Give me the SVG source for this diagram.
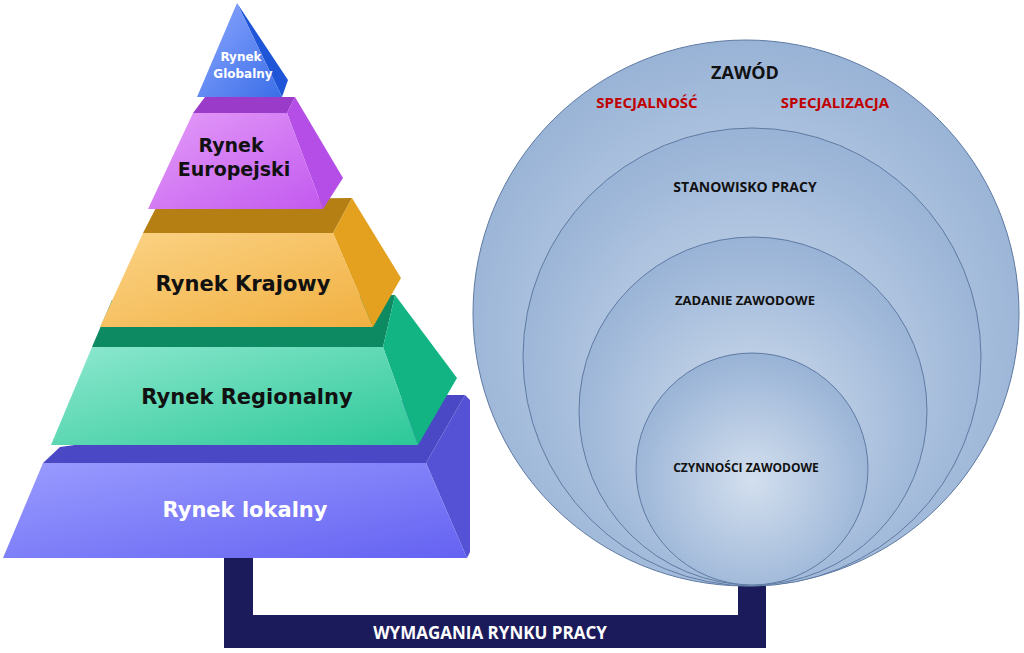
<svg xmlns="http://www.w3.org/2000/svg" width="1024" height="653" viewBox="0 0 1024 653">
<style>
.pt{font-family:"DejaVu Sans","Verdana",sans-serif;font-weight:bold;text-anchor:middle}
.ct{font-family:"Open Sans","Liberation Sans",sans-serif;font-weight:bold;text-anchor:middle;fill:#111}
.circ{fill:url(#cg);stroke:#5f7aa3;stroke-width:1}
</style>
<defs>
<radialGradient id="cg" cx="0.5" cy="0.55" r="0.6"><stop offset="0" stop-color="#d3dfee"/><stop offset="1" stop-color="#93afd4"/></radialGradient>
<linearGradient id="gb" x1="0" y1="0" x2="1" y2="1"><stop offset="0" stop-color="#8fa8ff"/><stop offset="1" stop-color="#3a6ee8"/></linearGradient>
<linearGradient id="gp" x1="0" y1="0" x2="1" y2="1"><stop offset="0" stop-color="#e49cf8"/><stop offset="1" stop-color="#c259ef"/></linearGradient>
<linearGradient id="go" x1="0" y1="0" x2="1" y2="1"><stop offset="0" stop-color="#fbd386"/><stop offset="1" stop-color="#f1b041"/></linearGradient>
<linearGradient id="gg" x1="0" y1="0" x2="1" y2="1"><stop offset="0" stop-color="#8ee8cf"/><stop offset="1" stop-color="#2cc897"/></linearGradient>
<linearGradient id="gl" x1="0" y1="0" x2="1" y2="1"><stop offset="0" stop-color="#9a9cff"/><stop offset="1" stop-color="#6462f2"/></linearGradient>
</defs>
<rect width="1024" height="653" fill="#fff"/>
<g id="connector">
<path d="M224,557 H253 V615 H738 V580 H766 V648 H224 Z" fill="#1b1b5c"/>
<text x="490" y="639" font-family="Open Sans,Liberation Sans,sans-serif" font-weight="bold" font-size="17" fill="#fff" text-anchor="middle">WYMAGANIA RYNKU PRACY</text>
</g>
<g id="circles">
<circle class="circ" cx="746" cy="313" r="273"/>
<circle class="circ" cx="752" cy="357" r="229"/>
<circle class="circ" cx="753" cy="411" r="174"/>
<circle class="circ" cx="752" cy="469" r="116"/>
<text class="ct" x="745" y="79" font-size="18">ZAWÓD</text>
<text class="ct" x="647" y="108" font-size="15" fill="#c00000" style="fill:#c00000">SPECJALNOŚĆ</text>
<text class="ct" x="835" y="108" font-size="15" style="fill:#c00000">SPECJALIZACJA</text>
<text class="ct" x="745" y="192" font-size="14">STANOWISKO PRACY</text>
<text class="ct" x="745" y="305" font-size="13">ZADANIE ZAWODOWE</text>
<text class="ct" x="746" y="472" font-size="12">CZYNNOŚCI ZAWODOWE</text>
</g>
<g id="lokalny">
<polygon points="43,463 60,447 440,395 465,395 426,463" fill="#4a48c4"/>
<polygon points="426,463 465,395 470,400 470,552 467,558" fill="#5552d6"/>
<polygon points="43,463 426,463 467,558 3,558" fill="url(#gl)"/>
<text class="pt" x="245" y="517" font-size="21" fill="#fff">Rynek lokalny</text>
</g>
<g id="regionalny">
<polygon points="92,347 112,300 395,295 383,347" fill="#0e8a63"/>
<polygon points="383,347 395,295 457,378 418,445" fill="#12b483"/>
<polygon points="92,347 383,347 418,445 51,445" fill="url(#gg)"/>
<text class="pt" x="247" y="404" font-size="21" fill="#111">Rynek Regionalny</text>
</g>
<g id="krajowy">
<polygon points="143,233 160,200 352,198 333,233" fill="#b57f14"/>
<polygon points="333,233 352,198 401,278 373,327" fill="#e3a11f"/>
<polygon points="143,233 333,233 373,327 100,327" fill="url(#go)"/>
<text class="pt" x="243" y="291" font-size="21" fill="#111">Rynek Krajowy</text>
</g>
<g id="europejski">
<polygon points="193,113 205,97 295,97 287,113" fill="#9a3bc9"/>
<polygon points="287,113 295,97 343,178 323,209" fill="#b54ee6"/>
<polygon points="193,113 287,113 323,209 148,209" fill="url(#gp)"/>
<text class="pt" x="231" y="152" font-size="19" fill="#111">Rynek</text>
<text class="pt" x="234" y="176" font-size="19" fill="#111">Europejski</text>
</g>
<g id="globalny">
<polygon points="237,3 288,80 282,97" fill="#1f56d8"/>
<polygon points="237,3 282,97 197,97" fill="url(#gb)"/>
<text class="pt" x="241" y="61" font-size="12" fill="#fff">Rynek</text>
<text class="pt" x="243" y="78" font-size="12" fill="#fff">Globalny</text>
</g>
</svg>
